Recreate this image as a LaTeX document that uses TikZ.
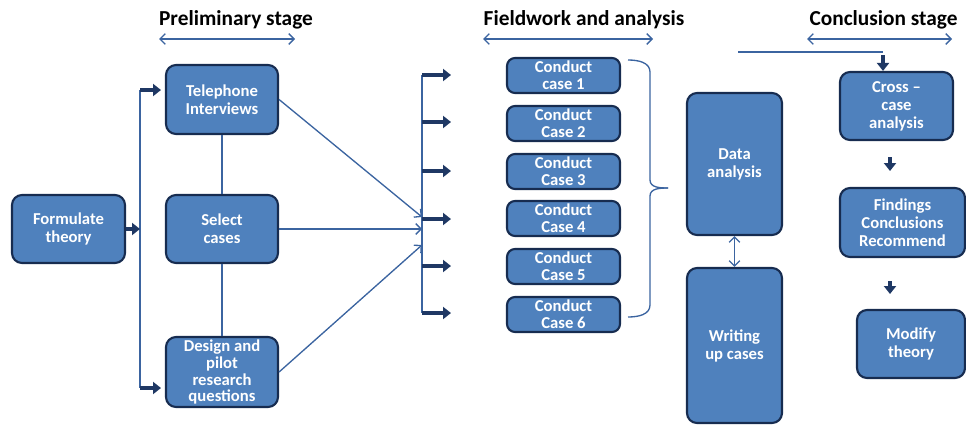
\documentclass[tikz,border=0pt]{standalone}
\usepackage{fontspec}
\setmainfont{Carlito}
\usetikzlibrary{arrows.meta}
\definecolor{boxfill}{HTML}{4F81BD}
\definecolor{boxline}{HTML}{172C50}
\definecolor{connc}{HTML}{3B64A0}
\definecolor{fatc}{HTML}{1F3864}
\begin{document}
\begin{tikzpicture}[x=0.75pt,y=0.75pt,
 box/.style={draw=boxline, line width=1.6pt, fill=boxfill, rounded corners=7.5pt, text=white,
   font=\bfseries\fontsize{12.5}{13.5}\selectfont, align=center, inner sep=0pt},
 cbox/.style={box, minimum width=84.75pt, minimum height=26.25pt, rounded corners=6pt, font=\bfseries\fontsize{12.5}{13}\selectfont},
 conn/.style={draw=connc, line width=1pt},
 openhead/.style={-{Straight Barb[length=4pt,width=8pt]}},
 twohead/.style={{Straight Barb[length=4pt,width=8pt]}-{Straight Barb[length=4pt,width=8pt]}},
 fat/.style={draw=fatc, line width=3pt, -{Triangle[length=6pt,width=9pt]}},
 ttl/.style={font=\bfseries\fontsize{16}{18}\selectfont, text=black, inner sep=0pt},
]
\useasboundingbox (0,0) rectangle (966,-425);

% titles
\node[ttl] (t1) at (236,-20) {Preliminary stage};
\node[ttl] (t2) at (584,-20) {Fieldwork and analysis};
\node[ttl] (t3) at (883.5,-20) {Conclusion stage};
\coordinate (s1a) at (159,-39); \coordinate (s1b) at (295,-39);
\coordinate (s2a) at (483,-39); \coordinate (s2b) at (653,-39);
\coordinate (s3a) at (807,-39); \coordinate (s3b) at (952,-39);
\draw[conn,twohead] (s1a) -- (s1b);
\draw[conn,twohead] (s2a) -- (s2b);
\draw[conn,twohead] (s3a) -- (s3b);

% boxes
\node[box, minimum width=84.75pt, minimum height=51pt] (form) at (68.5,-229) {Formulate\\theory};
\node[box, minimum width=84pt, minimum height=51.75pt] (tel) at (222,-99.5) {Telephone\\Interviews};
\node[box, minimum width=84pt, minimum height=51pt] (sel) at (222,-229) {Select\\cases};
\node[box, minimum width=84pt, minimum height=52.5pt, font=\bfseries\fontsize{12.5}{12.7}\selectfont] (des) at (222,-372) {Design and\\pilot\\research\\questions};

\node[cbox] (c1) at (563.5,-75.5) {Conduct\\case 1};
\node[cbox] (c2) at (563.5,-123.5) {Conduct\\Case 2};
\node[cbox] (c3) at (563.5,-171.5) {Conduct\\Case 3};
\node[cbox] (c4) at (563.5,-218.5) {Conduct\\Case 4};
\node[cbox] (c5) at (563.5,-266.5) {Conduct\\Case 5};
\node[cbox] (c6) at (563.5,-314.5) {Conduct\\Case 6};

\node[box, minimum width=71.25pt, minimum height=106.5pt] (data) at (734.5,-164) {Data\\analysis};
\node[box, minimum width=71.25pt, minimum height=116.25pt] (writ) at (734.5,-345.5) {Writing\\up cases};

\node[box, minimum width=84.75pt, minimum height=51pt] (cross) at (896.5,-106) {Cross –\\case\\analysis};
\node[box, minimum width=93.75pt, minimum height=51.75pt] (find) at (902.5,-222.5) {Findings\\Conclusions\\Recommend};
\node[box, minimum width=81pt, minimum height=51pt] (mod) at (911,-344) {Modify\\theory};

% left connectors
\coordinate (vtop) at (140,-90); \coordinate (vmid) at (140,-229); \coordinate (vbot) at (140,-388);
\coordinate (vtopE) at (161,-90); \coordinate (vbotE) at (161,-388);
\draw[conn] (vtop) -- (vbot);
\draw[fat] (form.east) -- (vmid);
\draw[fat] (vtop) -- (vtopE);
\draw[fat] (vbot) -- (vbotE);
\draw[conn] (tel) -- (sel);
\draw[conn] (sel) -- (des);

% converging lines
\coordinate (pT) at (422,-217); \coordinate (pS) at (422,-229); \coordinate (pD) at (422,-245);
\draw[conn,openhead] (tel.east) -- (pT);
\draw[conn,openhead] (sel.east) -- (pS);
\draw[conn,openhead] (des.east) -- (pD);

% distribution bar
\coordinate (h1) at (422,-75);  \coordinate (e1) at (451,-75);
\coordinate (h2) at (422,-122); \coordinate (e2) at (451,-122);
\coordinate (h3) at (422,-171); \coordinate (e3) at (451,-171);
\coordinate (h4) at (422,-219); \coordinate (e4) at (451,-219);
\coordinate (h5) at (422,-266); \coordinate (e5) at (451,-266);
\coordinate (h6) at (422,-313); \coordinate (e6) at (451,-313);
\draw[conn] (h1) -- (h6);
\foreach \i in {1,...,6} {\draw[fat] (h\i) -- (e\i);}

% brace
\draw[conn] (628,-60) to[out=0,in=90] (650,-72) -- (650,-180) to[out=-90,in=180] (668,-188);
\draw[conn] (628,-317) to[out=0,in=-90] (650,-305) -- (650,-196) to[out=90,in=180] (668,-188);

% data <-> writing
\draw[conn,twohead] (data) -- (writ);

% conclusion connectors
\coordinate (tl1) at (738,-52); \coordinate (tl2) at (883,-52); \coordinate (tl3) at (883,-55);
\draw[conn] (tl1) -- (tl2);
\draw[fat] (tl3) -- (tl3 |- cross.north);
\coordinate (d1a) at (890,-157); \coordinate (d1b) at (890,-171);
\coordinate (d2a) at (890,-281); \coordinate (d2b) at (890,-294);
\draw[fat] (d1a) -- (d1b);
\draw[fat] (d2a) -- (d2b);
\end{tikzpicture}
\end{document}
